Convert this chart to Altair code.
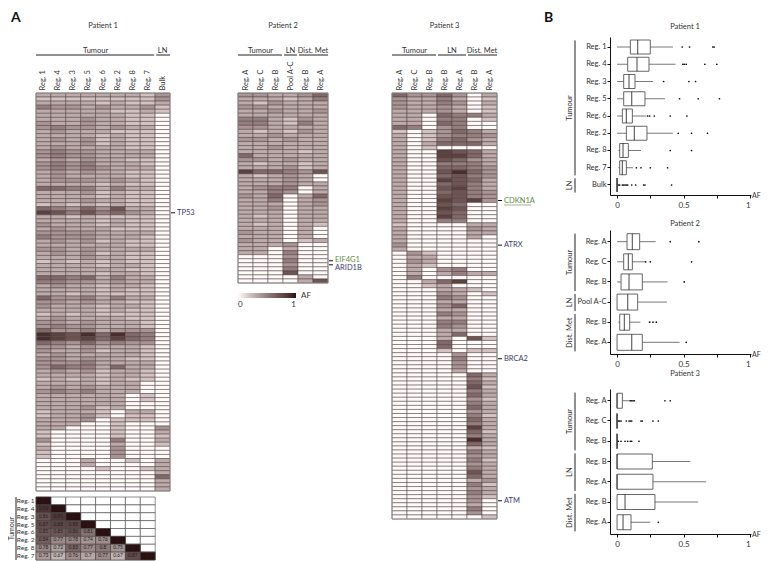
import altair as alt
import pandas as pd

FONT = "Lato"
NAVY = "#3b3a78"
GREEN = "#5b8a3c"
INK = "#333333"

# ---------- heat-map values: one string per variant, one digit per region (AF x 10) ----------
P1_COLS = ["T|Reg. 1", "T|Reg. 4", "T|Reg. 3", "T|Reg. 5", "T|Reg. 6", "T|Reg. 2", "T|Reg. 8", "T|Reg. 7", "L|Bulk"]
P1_ROWS = [
    "333333324", "222222224", "333323223", "544343342", "333332232",
    "333333220", "333433220", "433433220", "454434330", "343332220",
    "333323220", "343423220", "333423220", "343333220", "454433330",
    "454433330", "343433220", "454533320", "454543330", "343433220",
    "343333220", "344434320", "333323220", "665535330", "333423220",
    "333323220", "333433220", "232323220", "654647330", "875756430",
    "332322220", "333323220", "433323220", "343332220", "444433330",
    "544433320", "343423220", "333333220", "443433330", "343423220",
    "333433220", "232323220", "333323320", "333333220", "333323320",
    "665635330", "554434330", "343323320", "333323220", "332322220",
    "644535330", "443433220", "433323320", "333323220", "232322220",
    "343333220", "443433320", "454433320", "644534440", "987969650",
    "987868650", "654645440", "443433320", "433423320", "343333320",
    "443433220", "444533330", "465536330", "343423320", "333323320",
    "232323220", "333323300", "343433300", "454533300", "333333020",
    "333333020", "333333000", "333423000", "233320330", "233420220",
    "333402220", "333002000", "330002004", "200002003", "200002002",
    "400005003", "200003002", "300004000", "200004000", "200004000",
    "000300203", "000300003", "000020023", "000000003", "000000006",
    "000000003", "000000003", "000000003",
]
P2_COLS = ["T|Reg. A", "T|Reg. C", "T|Reg. B", "L|Pool A-C", "D|Reg. B", "D|Reg. A"]
P2_ROWS = [
    "443346", "333235", "324333", "443333", "334334", "333333", "553243", "553253",
    "443333", "323243", "334333", "443433", "333333", "334333", "333323", "633333",
    "443433", "323323", "333423", "866547", "323430", "333430", "333433", "345503",
    "335403", "436036", "335034", "333034", "334033", "333033", "323033", "333033",
    "323032", "333030", "433030", "333030", "433023", "333400", "330300", "330500",
    "000400", "000500", "000400", "000500", "000700", "000030", "000037",
]
P3_COLS = ["T|Reg. A", "T|Reg. C", "T|Reg. B", "L|Reg. B", "L|Reg. A", "D|Reg. B", "D|Reg. A"]
P3_ROWS = [
    "6446403", "4335302", "4335403", "4334302", "3334302", "3306553", "3305502", "3306500",
    "6504500", "2024653", "3024554", "3025643", "3036663", "3020000", "3008763", "3008863",
    "3007643", "3005553", "3006654", "3007964", "3006754", "3008763", "3006753", "3007853",
    "3006754", "3007754", "3008784", "3007600", "3008700", "3007600", "3008600", "3005500",
    "2000033", "3000043", "3000033", "3000030", "3000000", "4000000", "3000000", "0420000",
    "0330000", "0430000", "0320000", "0304500", "0303533", "0500000", "0036800", "0023000",
    "0003320", "0004302", "0005400", "0003300", "0004600", "0003300", "0005400", "0003300",
    "0005500", "0005400", "0003300", "0003600", "0003072", "0006000", "0006000", "0002022",
    "0000400", "0000500", "0000400", "0000400", "0000300", "0000063", "0000052", "0000063",
    "0000072", "0000053", "0000063", "0000042", "0000053", "0000063", "0000043", "0000052",
    "0000063", "0000053", "0000083", "0000062", "0000053", "0000093", "0000063", "0000032",
    "0000053", "0000043", "0000052", "0000043", "0000053", "0000073", "0000063", "0000034",
    "0000052", "0000043", "0000053", "0000042", "0000040", "0000030", "0000050", "0000040",
    "0000002",
]
P1_GENES = [("TP53", 29, NAVY)]
P2_GENES = [("EIF4G1", 41, GREEN), ("ARID1B", 42, NAVY)]
P3_GENES = [("CDKN1A", 26, GREEN), ("ATRX", 37, NAVY), ("BRCA2", 65, NAVY), ("ATM", 100, NAVY)]

# ---------- correlation matrix ----------
CORR_LABELS = ["Reg. 1", "Reg. 4", "Reg. 3", "Reg. 5", "Reg. 6", "Reg. 2", "Reg. 8", "Reg. 7"]
CORR_VALUES = [
    [1],
    [0.92, 1],
    [0.86, 0.91, 1],
    [0.87, 0.88, 0.88, 1],
    [0.85, 0.85, 0.86, 0.81, 1],
    [0.84, 0.77, 0.78, 0.74, 0.76, 1],
    [0.78, 0.72, 0.83, 0.77, 0.8, 0.75, 1],
    [0.73, 0.67, 0.76, 0.7, 0.77, 0.67, 0.87, 1],
]

# ---------- box plots: label, low whisker, q1, median, q3, high whisker, outliers ----------
BOX1 = [
    ("T|Reg. 1", 0, .10, .155, .25, .42, [.49, .545, .72, .73]),
    ("T|Reg. 4", 0, .08, .15, .24, .44, [.495, .505, .52, .66, .75]),
    ("T|Reg. 3", 0, .05, .09, .135, .27, [.35, .54, .59]),
    ("T|Reg. 5", 0, .05, .11, .21, .36, [.47, .61, .77]),
    ("T|Reg. 6", 0, .04, .07, .115, .22, [.23, .245, .28, .40, .525]),
    ("T|Reg. 2", 0, .07, .13, .225, .42, [.46, .56, .68]),
    ("T|Reg. 8", .01, .02, .045, .085, .18, [.40, .56]),
    ("T|Reg. 7", .01, .02, .04, .07, .12, [.145, .18, .25, .38]),
    ("L|Bulk", 0, 0, 0, 0, 0, [.01, .02, .04, .05, .06, .07, .08, .11, .14, .2, .21, .41]),
]
BOX2 = [
    ("T|Reg. A", 0, .075, .115, .17, .29, [.40, .615]),
    ("T|Reg. C", 0, .05, .085, .115, .21, [.215, .25, .56]),
    ("T|Reg. B", 0, .03, .09, .19, .38, [.505]),
    ("L|Pool A-C", 0, 0, .08, .155, .375, []),
    ("D|Reg. B", .01, .02, .055, .095, .175, [.245, .27, .295]),
    ("D|Reg. A", 0, 0, .11, .19, .47, [.52]),
]
BOX3 = [
    ("T|Reg. A", 0, 0, 0, .04, .10, [.10, .11, .12, .13, .36, .40]),
    ("T|Reg. C", 0, 0, 0, 0, 0, [.01, .02, .03, .07, .09, .10, .11, .18, .19, .27, .31]),
    ("T|Reg. B", 0, 0, 0, 0, 0, [.01, .03, .06, .08, .10, .11, .165]),
    ("L|Reg. B", 0, 0, 0, .265, .55, []),
    ("L|Reg. A", 0, 0, 0, .27, .67, []),
    ("D|Reg. B", 0, 0, .06, .285, .61, []),
    ("D|Reg. A", 0, 0, .045, .105, .25, [.31]),
]
GROUP_NAMES = {"T": "Tumour", "L": "LN", "D": "Dist. Met"}

one = pd.DataFrame({"v": [0]})
HEAT_SCALE = alt.Scale(domain=[0, 0.2, 0.5, 0.9, 1],
                       range=["#ffffff", "#d2c3c2", "#947e7e", "#4a2e2e", "#2a1010"])
BOX_X = alt.Scale(domain=[-0.053, 1.007], nice=False, zero=False)
BOX_AXIS = alt.Axis(values=[0, .25, .5, .75, 1], grid=False, title=None, tickSize=3,
                    labelExpr="datum.value==0.25||datum.value==0.75?'':datum.label",
                    format="~g", labelFont=FONT, labelFontSize=8, labelColor=INK,
                    domainColor="#111111", tickColor="#111111", labelPadding=3)


def text_at(label, x, y, size=7.5, color=INK, angle=0, align="center", weight="normal", baseline="middle"):
    return alt.Chart(one).mark_text(text=label, font=FONT, fontSize=size, color=color, angle=angle,
                                    align=align, fontWeight=weight, baseline=baseline).encode(
        x=alt.value(x), y=alt.value(y))


def seg(x, x2, y, y2=None, color="#222222", width=1.0, opacity=1):
    enc = dict(x=alt.value(x), x2=alt.value(x2), y=alt.value(y))
    if y2 is not None:
        enc["y2"] = alt.value(y2)
    return alt.Chart(one).mark_rule(color=color, strokeWidth=width, opacity=opacity).encode(**enc)


def groups_of(keys):
    out = []
    for i, k in enumerate(keys):
        g = k.split("|")[0]
        if out and out[-1][0] == g:
            out[-1][2] = i + 1
        else:
            out.append([g, i, i + 1])
    return out


def heat(cols, rows, genes, title, width, height, cw, legend=None, title_x=None, letter=None):
    df = pd.DataFrame([{"col": c, "row": r, "af": int(s[j]) / 10}
                       for r, s in enumerate(rows) for j, c in enumerate(cols)])
    order = list(range(len(rows)))
    xs = alt.X("col:N", scale=alt.Scale(domain=cols, paddingInner=0, paddingOuter=0),
               axis=alt.Axis(orient="top", labelAngle=270, labelExpr="split(datum.label,'|')[1]",
                             domain=False, ticks=False, title=None, labelFontSize=7.5, labelFont=FONT,
                             labelPadding=3, labelColor=INK))
    ys = alt.Y("row:O", scale=alt.Scale(domain=order, paddingInner=0, paddingOuter=0), axis=None)
    layers = [alt.Chart(df).mark_rect(stroke="#4c3d3d", strokeWidth=0.5).encode(
        x=xs, y=ys, color=alt.Color("af:Q", scale=HEAT_SCALE, legend=legend))]
    layers.append(alt.Chart(one).mark_rect(fill=None, stroke="#8c8c8c", strokeWidth=1).encode(
        x=alt.value(0), x2=alt.value(width), y=alt.value(0), y2=alt.value(height)))
    for g, a, b in groups_of(cols):
        layers.append(seg(a * cw + (1 if a else 0), b * cw - (1 if b < len(cols) else 0), -38))
        layers.append(text_at(GROUP_NAMES[g], (a + b) / 2 * cw, -42))
    layers.append(text_at(title, title_x if title_x else width / 2, -67))
    if letter:
        layers.append(text_at(letter, -25, -82, size=14, weight="bold", align="left", color="#111111", baseline="top"))
    gdf = pd.DataFrame(genes, columns=["gene", "row", "c"])
    layers.append(alt.Chart(gdf).mark_rule(color="#111111", strokeWidth=1).encode(
        y=ys, x=alt.value(width + 1), x2=alt.value(width + 5)))
    for g in genes:
        gd = gdf[gdf.gene == g[0]]
        dy = {"EIF4G1": -1, "ARID1B": 3}.get(g[0], 0)
        layers.append(alt.Chart(gd).mark_text(font=FONT, fontSize=7.5, color=g[2], align="left", dy=dy).encode(
            y=ys, x=alt.value(width + 7), text="gene:N"))
        if g[0] == "CDKN1A":
            uy = (g[1] + 0.5) * height / len(rows) + 4.5
            layers.append(seg(width + 7, width + 34, uy, color=g[2], width=0.6))
    return alt.layer(*layers).properties(width=width, height=height)


heat1 = heat(P1_COLS, P1_ROWS, P1_GENES, "Patient 1", 134, 398, 14.9, title_x=67, letter="A")
legend = alt.Legend(orient="none", legendX=0, legendY=200, direction="horizontal", title="AF",
                    titleOrient="right", gradientLength=58, gradientThickness=5, values=[0, 1], format="~g",
                    labelFont=FONT, labelFontSize=8, labelColor=INK, titleFont=FONT, titleFontSize=8,
                    titleFontWeight="normal", titleColor=INK, labelOffset=3)
heat2 = heat(P2_COLS, P2_ROWS, P2_GENES, "Patient 2", 90, 190, 15, legend=legend)
heat3 = heat(P3_COLS, P3_ROWS, P3_GENES, "Patient 3", 105, 426, 15)

# correlation triangle
cw_c = 14.9
CORR_H = 63
corr_all = pd.DataFrame([{"a": x, "b": y} for x in CORR_LABELS for y in CORR_LABELS])
corr_df = pd.DataFrame([{"a": CORR_LABELS[j], "b": CORR_LABELS[i], "r": v}
                        for i, row in enumerate(CORR_VALUES) for j, v in enumerate(row)])
cx = alt.X("a:N", scale=alt.Scale(domain=CORR_LABELS, paddingInner=0, paddingOuter=0), axis=None)
cy = alt.Y("b:N", scale=alt.Scale(domain=CORR_LABELS, paddingInner=0, paddingOuter=0),
           axis=alt.Axis(title=None, domain=False, ticks=False, labelFont=FONT, labelFontSize=6.5,
                         labelPadding=2, labelColor=INK))
corr = alt.layer(
    alt.Chart(corr_all).mark_rect(fill="white", stroke="#444444", strokeWidth=0.6).encode(x=cx, y=cy),
    alt.Chart(corr_df).mark_rect(stroke="#444444", strokeWidth=0.6).encode(
        x=cx, y=cy,
        color=alt.Color("r:Q", legend=None,
                        scale=alt.Scale(domain=[0.65, 0.78, 0.88, 1],
                                        range=["#c9bdbc", "#988584", "#5d4645", "#2a1010"]))),
    alt.Chart(corr_df).mark_text(font=FONT, fontSize=4.8, color="#222222").encode(x=cx, y=cy, text="r:N"),
    seg(-20, -20, 0, CORR_H, width=1),
    text_at("Tumour", -24, CORR_H / 2, size=7, angle=270),
).properties(width=8 * cw_c, height=CORR_H)


def box(rows, title, height, bar, title_y, letter=None, top_gap=None):
    keys = [r[0] for r in rows]
    df = pd.DataFrame([dict(k=r[0], lo=r[1], q1=r[2], med=r[3], q3=r[4], hi=r[5]) for r in rows])
    out = pd.DataFrame([dict(k=r[0], x=v) for r in rows for v in r[6]])
    ys = alt.Y("k:N", scale=alt.Scale(domain=keys, paddingInner=0, paddingOuter=0.08),
               axis=alt.Axis(title=None, grid=False, tickSize=3, labelExpr="split(datum.label,'|')[1]",
                             labelFont=FONT, labelFontSize=7.5, labelColor=INK,
                             domainColor="#111111", tickColor="#111111", labelPadding=1))
    layers = [
        alt.Chart(df).mark_rule(color="#6a6a6a", strokeWidth=0.9).encode(
            x=alt.X("lo:Q", scale=BOX_X, axis=BOX_AXIS), x2="hi:Q", y=ys),
        alt.Chart(df).mark_bar(size=bar, fill="white", stroke="#555555", strokeWidth=0.9).encode(
            x=alt.X("q1:Q", scale=BOX_X, axis=BOX_AXIS), x2="q3:Q", y=ys),
        alt.Chart(df).mark_tick(size=bar, thickness=1.2, color="#222222").encode(
            x=alt.X("med:Q", scale=BOX_X, axis=BOX_AXIS), y=ys),
    ]
    if len(out):
        layers.append(alt.Chart(out).mark_circle(size=3, color="#111111", opacity=1).encode(
            x=alt.X("x:Q", scale=BOX_X, axis=BOX_AXIS), y=ys))
    step = height / (len(keys) + 0.16)
    pad = 0.08 * step
    for g, a, b in groups_of(keys):
        y0 = pad + a * step + 2
        y1 = pad + b * step - 1
        layers.append(seg(-35, -35, y0, y1, width=1))
        layers.append(text_at(GROUP_NAMES[g], -40, (y0 + y1) / 2, angle=270))
    layers.append(text_at(title, 75, title_y))
    layers.append(text_at("AF", 142, height + 1, size=7, align="left"))
    if letter:
        layers.append(text_at(letter, -66, -26, size=14, weight="bold", align="left", color="#111111", baseline="top"))
    if top_gap:
        layers.append(seg(0, 1, -top_gap, opacity=0))
    return alt.layer(*layers).properties(width=141, height=height)


box1 = box(BOX1, "Patient 1", 158, 14, -10, letter="B")
box2 = box(BOX2, "Patient 2", 124, 16, -6, top_gap=21)
box3 = box(BOX3, "Patient 3", 145, 15, -15, top_gap=21)


def anchor():
    return seg(0, 1, 0, opacity=0).properties(width=1, height=3)


row_a = alt.hconcat(
    alt.vconcat(heat1, corr, spacing=4).resolve_scale(color="independent"),
    alt.hconcat(heat2, heat3, spacing=29).resolve_scale(color="independent"),
    spacing=42,
).resolve_scale(color="independent")
col_a = alt.vconcat(anchor(), row_a, spacing=0).resolve_scale(color="independent")
col_b = alt.vconcat(anchor(), box1, box2, box3, spacing=0)
chart = (alt.hconcat(col_a, col_b, spacing=9).resolve_scale(color="independent")
         .properties(padding=0)
         .configure(font=FONT)
         .configure_view(stroke=None))
chart.save("out.html", embed_options={"renderer": "svg", "actions": False})
